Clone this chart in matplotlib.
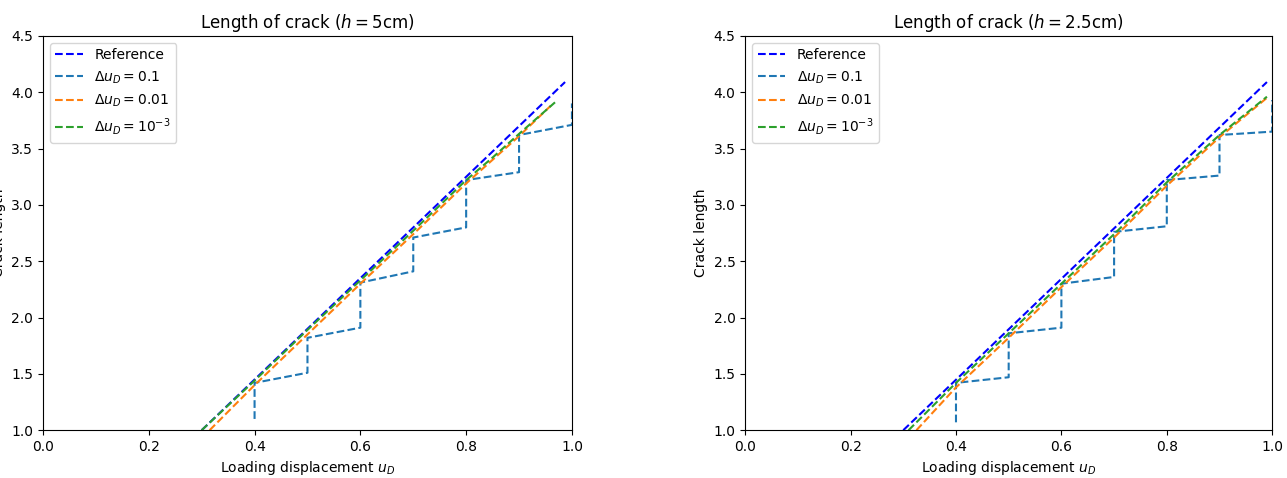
import numpy as np
import matplotlib
matplotlib.use("Agg")
import matplotlib.pyplot as plt

# h = 5cm
ref_x_5 = [0.30, 0.987]
ref_y_5 = [1.00, 4.09]
c01_x_5 = [0.4, 0.4, 0.5, 0.5, 0.6, 0.6, 0.7, 0.7, 0.8, 0.8, 0.9, 0.9, 1.0, 1.0]
c01_y_5 = [1.10, 1.42, 1.51, 1.82, 1.91, 2.31, 2.41, 2.71, 2.80, 3.22, 3.29, 3.62, 3.71, 3.90]
c001_x_5 = [0.315, 0.40, 0.50, 0.60, 0.70, 0.80, 0.90, 0.96]
c001_y_5 = [1.00, 1.40, 1.85, 2.30, 2.74, 3.19, 3.61, 3.88]
c0001_x_5 = [0.30, 0.40, 0.50, 0.60, 0.70, 0.80, 0.85, 0.90, 0.968]
c0001_y_5 = [1.00, 1.44, 1.89, 2.33, 2.77, 3.22, 3.42, 3.63, 3.91]

# h = 2.5cm
ref_x_25 = [0.30, 0.99]
ref_y_25 = [1.00, 4.09]
c01_x_25 = [0.4, 0.4, 0.5, 0.5, 0.6, 0.6, 0.7, 0.7, 0.8, 0.8, 0.9, 0.9, 1.0, 1.0]
c01_y_25 = [1.07, 1.42, 1.47, 1.86, 1.91, 2.30, 2.36, 2.76, 2.81, 3.22, 3.26, 3.62, 3.65, 3.93]
c001_x_25 = [0.325, 0.40, 0.50, 0.60, 0.70, 0.80, 0.90, 0.99]
c001_y_25 = [1.00, 1.38, 1.82, 2.27, 2.71, 3.17, 3.60, 3.95]
c0001_x_25 = [0.31, 0.40, 0.50, 0.60, 0.70, 0.80, 0.90, 0.99]
c0001_y_25 = [1.00, 1.42, 1.86, 2.30, 2.74, 3.20, 3.62, 3.96]

titles = ['Length of crack ($h = 5$cm)', 'Length of crack ($h = 2.5$cm)']
data = [
    (ref_x_5, ref_y_5, c01_x_5, c01_y_5, c001_x_5, c001_y_5, c0001_x_5, c0001_y_5),
    (ref_x_25, ref_y_25, c01_x_25, c01_y_25, c001_x_25, c001_y_25, c0001_x_25, c0001_y_25),
]

fig = plt.figure(figsize=(12.87, 4.78), dpi=100)
axes = [fig.add_axes([0.0334, 0.100, 0.411, 0.825]),
        fig.add_axes([0.579, 0.100, 0.4095, 0.825])]

for ax, title, d in zip(axes, titles, data):
    rx, ry, ax1, ay1, ax2, ay2, ax3, ay3 = d
    ax.plot(rx, ry, 'b--', label='Reference')
    ax.plot(ax1, ay1, '--', color='C0', label=r'$\Delta u_D = 0.1$')
    ax.plot(ax2, ay2, '--', color='C1', label=r'$\Delta u_D = 0.01$')
    ax.plot(ax3, ay3, '--', color='C2', label=r'$\Delta u_D = 10^{-3}$')
    ax.set_xlim(0, 1)
    ax.set_ylim(1, 4.5)
    ax.set_title(title)
    ax.set_xlabel('Loading displacement $u_D$')
    ax.set_ylabel('Crack length')
    ax.legend(loc='upper left')

fig.savefig('out.png', dpi=100)
